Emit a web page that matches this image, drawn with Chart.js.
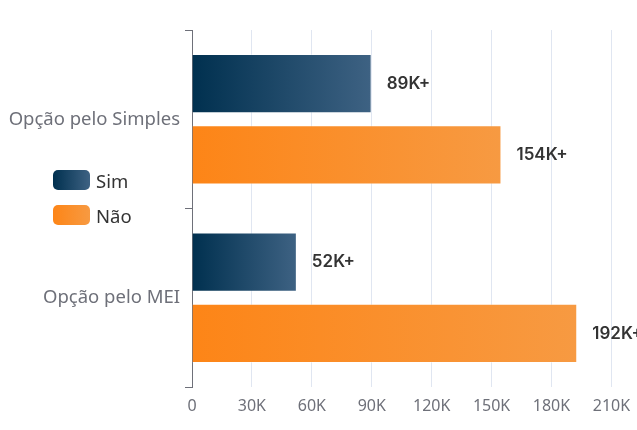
<!DOCTYPE html>
<html>
<head>
<meta charset="utf-8">
<script src="https://cdn.jsdelivr.net/npm/chart.js@4.4.1/dist/chart.umd.min.js"></script>
<style>
  html, body { margin: 0; padding: 0; background: #fff; overflow: hidden; }
  #wrap { position: relative; width: 700px; height: 430px; }
  #legend { position: absolute; left: 53px; top: 170px; font-family: "Noto Sans", sans-serif; font-size: 18.5px; color: #333; }
  .item { display: flex; align-items: center; height: 20px; margin-bottom: 15px; }
  .box { width: 37px; height: 20px; border-radius: 5px; margin-right: 6px; }
</style>
</head>
<body>
<div id="wrap">
  <canvas id="chart" width="700" height="430"></canvas>
  <div id="legend"></div>
</div>
<script>
// dados
let categories = ['Opção pelo Simples', 'Opção pelo MEI'];
let simValues = [89950, 52500];
let naoValues = [154950, 192900];
let seriesNames = ['Sim', 'Não'];
let xTicks = [0, 30000, 60000, 90000, 120000, 150000, 180000, 210000, 240000];

let simColors = ['#00304f', '#3e6283'];
let naoColors = ['#fd8517', '#f79a42'];

function barGradient(context, colors) {
    let chart = context.chart;
    if (!chart.chartArea) return colors[0];
    let x = chart.scales.x;
    let v = context.raw || 0;
    let x0 = x.getPixelForValue(0);
    let x1 = x.getPixelForValue(v);
    let g = chart.ctx.createLinearGradient(x0, 0, x1, 0);
    g.addColorStop(0, colors[0]);
    g.addColorStop(1, colors[1]);
    return g;
}

// rótulos no fim das barras
const valueLabels = {
    id: 'valueLabels',
    afterDatasetsDraw(chart) {
        let ctx = chart.ctx;
        ctx.save();
        ctx.font = '600 17px Inter, "Noto Sans", sans-serif';
        ctx.fillStyle = '#333';
        ctx.textBaseline = 'middle';
        chart.data.datasets.forEach((ds, i) => {
            chart.getDatasetMeta(i).data.forEach((bar, j) => {
                let txt = Math.floor(ds.data[j] / 1000) + 'K+';
                ctx.fillText(txt, bar.x + 15, bar.y);
            });
        });
        ctx.restore();
    }
};

let ctx = document.getElementById('chart').getContext('2d');
let chart = new Chart(ctx, {
    type: 'bar',
    data: {
        labels: categories,
        datasets: [
            {
                label: seriesNames[0],
                data: simValues,
                backgroundColor: c => barGradient(c, simColors),
                borderColor: 'rgba(255,255,255,0.35)',
                borderWidth: 1,
                borderSkipped: 'left'
            },
            {
                label: seriesNames[1],
                data: naoValues,
                backgroundColor: c => barGradient(c, naoColors),
                borderColor: 'rgba(255,255,255,0.35)',
                borderWidth: 1,
                borderSkipped: 'left'
            }
        ]
    },
    options: {
        indexAxis: 'y',
        responsive: false,
        animation: false,
        layout: { padding: { top: 30, right: 28, left: 0, bottom: 0 } },
        datasets: { bar: { categoryPercentage: 0.8, barPercentage: 0.83 } },
        plugins: {
            legend: { display: false },
            tooltip: { enabled: false }
        },
        scales: {
            x: {
                min: 0,
                max: 240000,
                afterBuildTicks: s => { s.ticks = xTicks.map(v => ({ value: v })); },
                afterFit: s => { s.height = 43; },
                grid: { color: '#e0e6f1', drawTicks: false },
                border: { display: false },
                ticks: {
                    color: '#6e7079',
                    padding: 10,
                    font: { family: '"Noto Sans", sans-serif', size: 16 },
                    callback: v => v === 0 ? '0' : (v / 1000) + 'K'
                }
            },
            y: {
                afterFit: s => { s.width = 192; },
                grid: { offset: true, drawOnChartArea: false, tickLength: 7, color: '#6e7079' },
                border: { display: true, color: '#6e7079' },
                ticks: {
                    color: '#6e7079',
                    padding: 5,
                    font: { family: '"Noto Sans", sans-serif', size: 18.5 }
                }
            }
        }
    },
    plugins: [valueLabels]
});

// legenda
let legend = document.getElementById('legend');
[simColors, naoColors].forEach((cols, i) => {
    let item = document.createElement('div');
    item.className = 'item';
    item.innerHTML = '<div class="box" style="background:linear-gradient(to right,' + cols[0] + ',' + cols[1] + ')"></div><span>' + seriesNames[i] + '</span>';
    legend.appendChild(item);
});
</script>
</body>
</html>
